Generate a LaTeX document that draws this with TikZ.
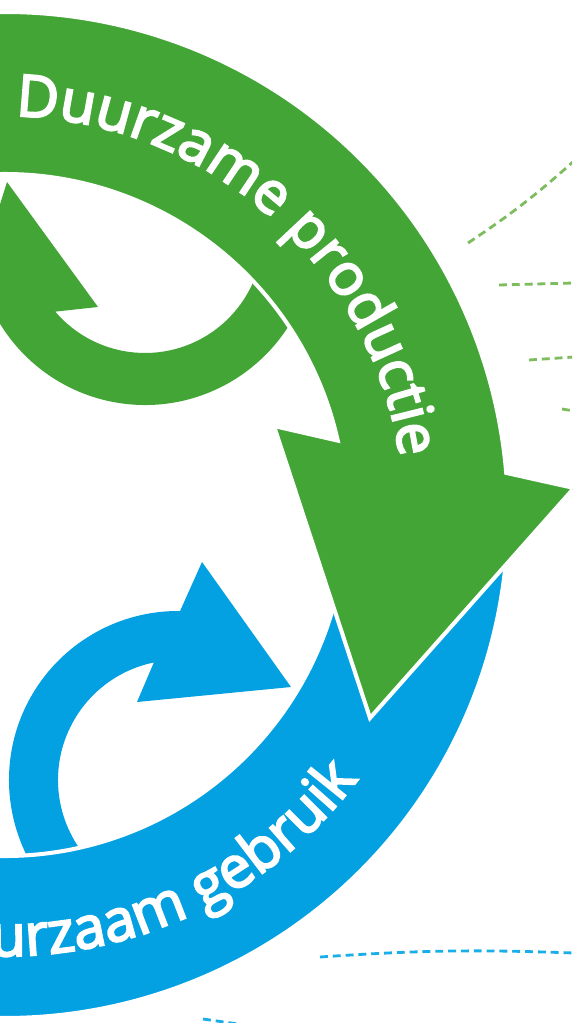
\documentclass[tikz,border=0pt]{standalone}
\usepackage{xcolor}
\usepackage{tikz}
\usepackage{fontspec}
\usetikzlibrary{decorations.text}
\newfontfamily\cycfont{Open Sans}[FakeBold=3.5]
\definecolor{cycGreen}{HTML}{42A535}
\definecolor{cycBlue}{HTML}{03A0E2}
\definecolor{cycGreenDash}{HTML}{7DBD5F}
\definecolor{cycBlueDash}{HTML}{1AAEE8}
\tikzset{
  bandfill/.style={fill=#1,draw=white,line width=2.3pt,line join=miter},
  ringfill/.style={fill=#1},
  dashline/.style={draw=#1,line width=1.6pt,dash pattern=on 4.5pt off 2.8pt},
  bandtext/.style={decorate,decoration={text along path,text color=white,text align=left,
    text={|\cycfont\fontsize{33pt}{33pt}\selectfont|#1}}}
}

\begin{document}
\begin{tikzpicture}[x=0.02cm,y=0.02cm]
  \useasboundingbox[fill=white] (0,0) rectangle (572,-1023);
  \clip (0,0) rectangle (572,-1023);
  \coordinate (hub) at (5,-515);
  \coordinate (greenhub) at (145,-235);
  \coordinate (bluehub) at (178,-780);
  \path[ringfill=cycGreen] ([shift={(greenhub)}]350:170) arc[start angle=350,end angle=209.6,radius=170]
    -- (-37,-323) -- (7,-182) -- (98,-307)
    -- ([shift={(greenhub)}]220.5:118) arc[start angle=220.5,end angle=350,radius=118] -- cycle;
  \path[ringfill=cycBlue] ([shift={(bluehub)}]235:169) arc[start angle=235,end angle=89.3,radius=169]
    -- (202,-562) -- (291,-687) -- (137,-702)
    -- ([shift={(bluehub)}]101.6:120) arc[start angle=101.6,end angle=235,radius=120] -- cycle;
  \path[bandfill=cycBlue] ([shift={(hub)}]0:503) arc[start angle=0,end angle=-105,radius=503]
    -- ([shift={(hub)}]-105:341) arc[start angle=-105,end angle=0,radius=341] -- cycle;
  \path[bandfill=cycGreen] ([shift={(hub)}]105:503) arc[start angle=105,end angle=4.8,radius=503]
    -- (574,-488) -- (370,-718) -- (274,-426)
    -- ([shift={(hub)}]12.6:341) arc[start angle=12.6,end angle=105,radius=341] -- cycle;
  \path[bandtext={Duurzame productie}] ([shift={(hub)}]88.5:399) arc[start angle=88.5,end angle=0,radius=399];
  \path[bandtext={Duurzaam gebruik}] ([shift={(hub)}]-102:441) arc[start angle=-102,end angle=-20,radius=441];
  \draw[dashline=cycGreenDash] (468,-243) to[bend right=4] (574,-161);
  \draw[dashline=cycGreenDash] (499,-285) -- (574,-283);
  \draw[dashline=cycGreenDash] (529,-360) -- (574,-357);
  \draw[dashline=cycGreenDash] (562,-409) -- (574,-411);
  \draw[dashline=cycBlueDash] (320,-957) to[bend left=3] (574,-953);
  \draw[dashline=cycBlueDash] (203,-1019) -- (245,-1025);
\end{tikzpicture}
\end{document}
